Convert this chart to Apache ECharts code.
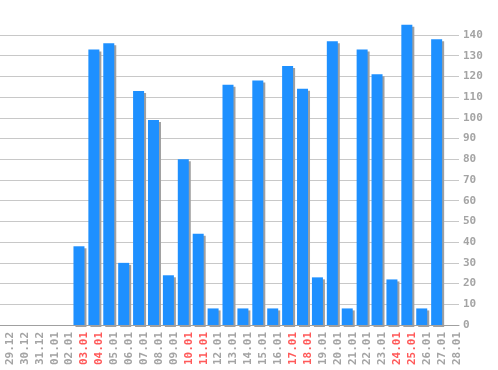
<!DOCTYPE html>
<html>
<head>
<meta charset="utf-8">
<script src="https://cdn.jsdelivr.net/npm/echarts@6/dist/echarts.min.js"></script>
<style>
html,body{margin:0;padding:0;background:#fff;}
#chart{width:498px;height:370px;}
</style>
</head>
<body>
<div id="chart"></div>
<script>
var categories = ["29.12","30.12","31.12","01.01","02.01","03.01","04.01","05.01","06.01","07.01","08.01","09.01","10.01","11.01","12.01","13.01","14.01","15.01","16.01","17.01","18.01","19.01","20.01","21.01","22.01","23.01","24.01","25.01","26.01","27.01","28.01"];
var values = [0,0,0,0,0,38,133,136,30,113,99,24,80,44,8,116,8,118,8,125,114,23,137,8,133,121,22,145,8,138,0];
var redLabels = ["03.01","04.01","10.01","11.01","17.01","18.01","24.01","25.01"];
var yTicks = [0,10,20,30,40,50,60,70,80,90,100,110,120,130,140];

var chart = echarts.init(document.getElementById('chart'), null, {renderer:'canvas'});
chart.setOption({
  animation: false,
  backgroundColor: '#ffffff',
  grid: {left: -3, right: 39, top: 35, bottom: 45, containLabel: false, outerBoundsMode: 'none'},
  xAxis: {
    type: 'category',
    data: categories,
    axisLine: {show: true, lineStyle: {color: '#a0a0a0', width: 1}},
    axisTick: {show: false},
    splitLine: {show: false},
    axisLabel: {
      interval: 0,
      rotate: 90,
      margin: 7,
      verticalAlign: 'top',
      lineHeight: 11,
      fontFamily: 'DejaVu Sans Mono',
      fontSize: 11,
      fontWeight: 'bold',
      color: function (v) { return redLabels.indexOf(v) >= 0 ? '#ff5a5a' : '#a4a4a4'; }
    }
  },
  yAxis: {
    type: 'value',
    position: 'right',
    min: yTicks[0],
    max: yTicks[yTicks.length - 1],
    interval: 10,
    axisLine: {show: false},
    axisTick: {show: false},
    splitLine: {show: true, lineStyle: {color: '#c8c8c8', width: 1}},
    axisLabel: {
      margin: 4,
      fontFamily: 'DejaVu Sans Mono',
      fontSize: 11,
      fontWeight: 'bold',
      color: '#a4a4a4'
    }
  },
  series: [{
    type: 'bar',
    data: values,
    barWidth: 11,
    clip: false,
    itemStyle: {
      color: '#1e90ff',
      shadowColor: '#a0a0a0',
      shadowBlur: 0,
      shadowOffsetX: 2,
      shadowOffsetY: 2
    }
  }]
});
</script>
</body>
</html>
